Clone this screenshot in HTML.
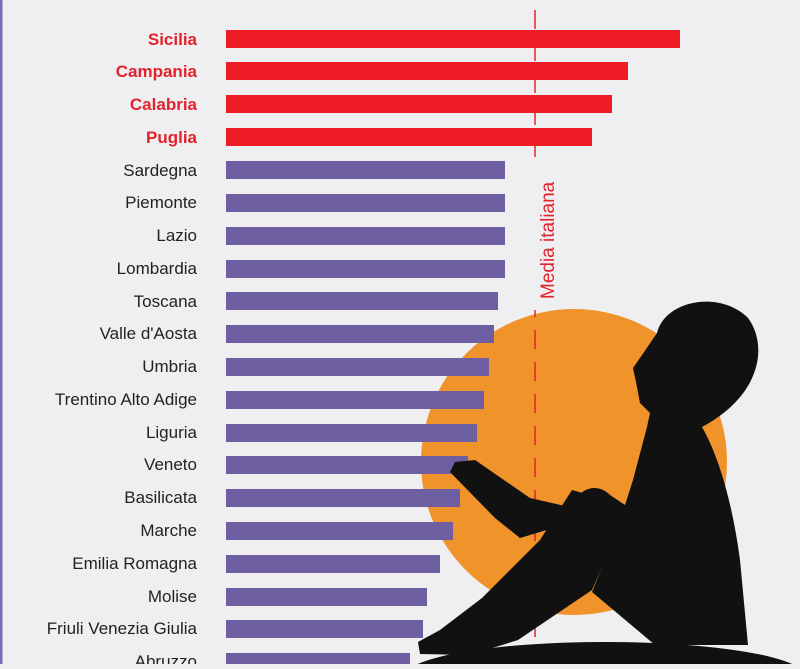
<!DOCTYPE html>
<html><head><style>
body{margin:0;width:800px;height:664px;overflow:hidden;background:#efeff1;font-family:"Liberation Sans",sans-serif}
</style></head><body>
<svg width="800" height="664" viewBox="0 0 800 664" xmlns="http://www.w3.org/2000/svg">
<rect width="800" height="664" fill="#efeff1"/>
<rect x="0" y="0" width="2.5" height="664" fill="#7a6bb0"/>
<circle cx="574" cy="462" r="153" fill="#f0932b"/>
<line x1="535" y1="10" x2="535" y2="664" stroke="#e3232c" stroke-width="1.5" stroke-dasharray="19,13"/>
<rect x="528" y="162" width="18" height="148" fill="#efeff1"/>
<text transform="translate(554,299) rotate(-90)" font-size="19" fill="#e3232c">Media italiana</text>
<g font-size="17" text-anchor="end">
<g fill="#e3232c" font-weight="bold">
<text x="197" y="45">Sicilia</text><text x="197" y="77">Campania</text><text x="197" y="110">Calabria</text><text x="197" y="143">Puglia</text>
</g>
<g fill="#222">
<text x="197" y="176">Sardegna</text><text x="197" y="208">Piemonte</text><text x="197" y="241">Lazio</text><text x="197" y="274">Lombardia</text><text x="197" y="307">Toscana</text><text x="197" y="339">Valle d'Aosta</text><text x="197" y="372">Umbria</text><text x="197" y="405">Trentino Alto Adige</text><text x="197" y="438">Liguria</text><text x="197" y="470">Veneto</text><text x="197" y="503">Basilicata</text><text x="197" y="536">Marche</text><text x="197" y="569">Emilia Romagna</text><text x="197" y="602">Molise</text><text x="197" y="634">Friuli Venezia Giulia</text><text x="197" y="667">Abruzzo</text>
</g></g>
<g fill="#ee1c25">
<rect x="226" y="30" width="454" height="18"/><rect x="226" y="62" width="402" height="18"/><rect x="226" y="95" width="386" height="18"/><rect x="226" y="128" width="366" height="18"/>
</g>
<g fill="#6e5ea2">
<rect x="226" y="161" width="279" height="18"/><rect x="226" y="194" width="279" height="18"/><rect x="226" y="227" width="279" height="18"/><rect x="226" y="260" width="279" height="18"/><rect x="226" y="292" width="272" height="18"/><rect x="226" y="325" width="268" height="18"/><rect x="226" y="358" width="263" height="18"/><rect x="226" y="391" width="258" height="18"/><rect x="226" y="424" width="251" height="18"/><rect x="226" y="456" width="242" height="18"/><rect x="226" y="489" width="234" height="18"/><rect x="226" y="522" width="227" height="18"/><rect x="226" y="555" width="214" height="18"/><rect x="226" y="588" width="201" height="18"/><rect x="226" y="620" width="197" height="18"/><rect x="226" y="653" width="184" height="18"/>
</g>
<g fill="#111">
<path d="M657,333 C665,300 720,290 748,318 C768,345 762,395 702,427 C718,455 732,500 740,560 L748,645 L655,645 L592,592 L605,560 L575,500 C585,485 600,485 610,495 L625,505 L633,480 L647,427 L650,413 L640,403 L636,382 L633,368 L642,355 Z"/>
<path d="M572,490 L600,498 L612,545 L592,590 L518,640 L470,655 L420,654 L418,642 L440,630 L482,598 L540,540 Z"/>
<path d="M450,472 L455,462 L475,460 L530,498 L600,514 L616,512 L606,526 L560,526 L520,538 L495,518 Z"/>
<ellipse cx="605" cy="676" rx="200" ry="34"/>
</g>
</svg>
</body></html>
